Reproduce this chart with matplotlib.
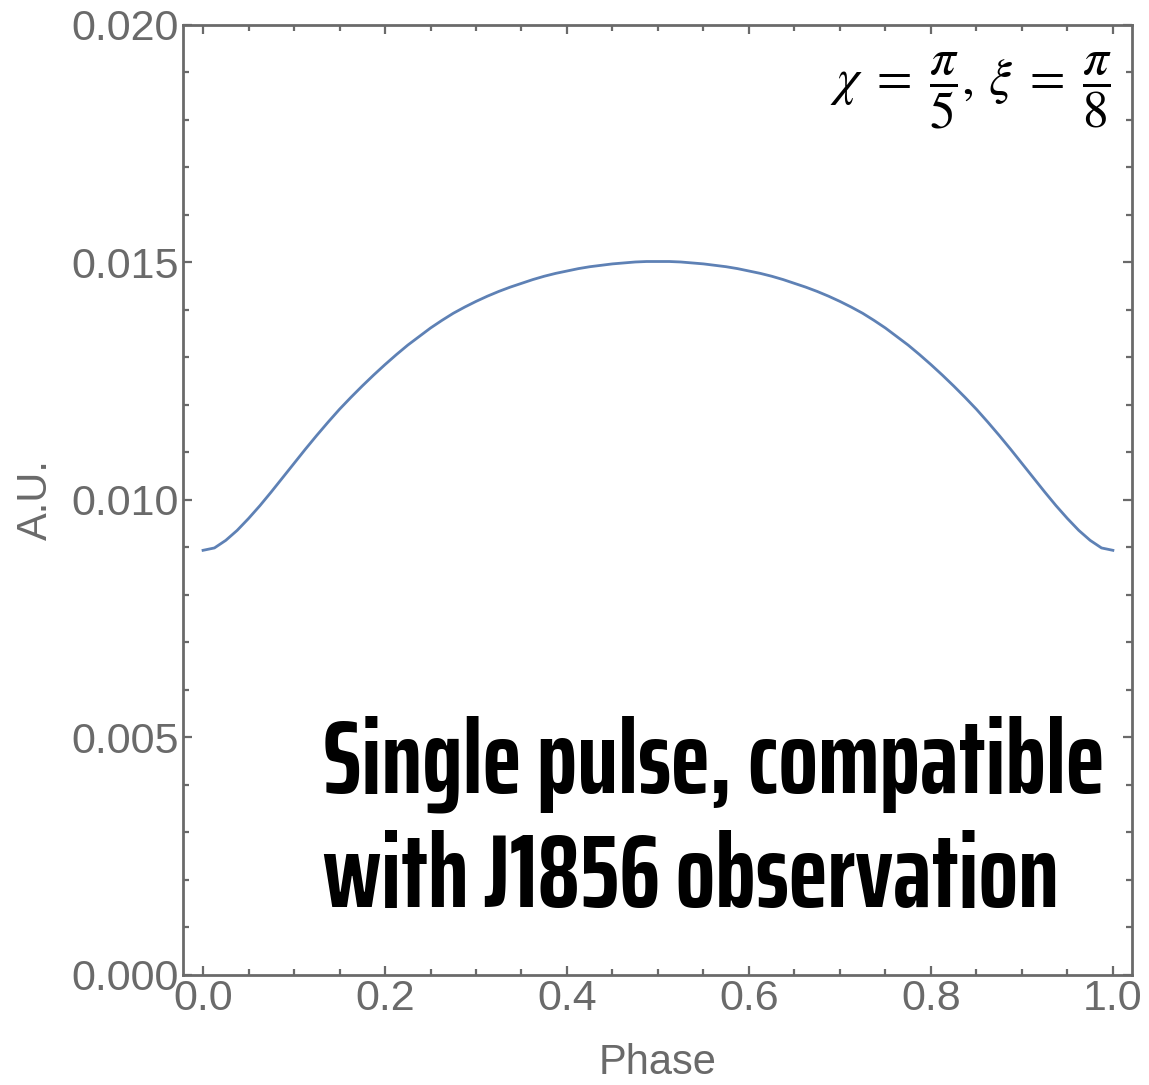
import numpy as np
import matplotlib
matplotlib.use("Agg")
import matplotlib.pyplot as plt
from matplotlib.ticker import MultipleLocator, FormatStrFormatter

# pulse profile
phase = [0.0000, 0.0125, 0.0250, 0.0375, 0.0500, 0.0625, 0.0750, 0.0875,
         0.1000, 0.1125, 0.1250, 0.1375, 0.1500, 0.1625, 0.1750, 0.1875,
         0.2000, 0.2125, 0.2250, 0.2375, 0.2500, 0.2625, 0.2750, 0.2875,
         0.3000, 0.3125, 0.3250, 0.3375, 0.3500, 0.3625, 0.3750, 0.3875,
         0.4000, 0.4125, 0.4250, 0.4375, 0.4500, 0.4625, 0.4750, 0.4875,
         0.5000, 0.5125, 0.5250, 0.5375, 0.5500, 0.5625, 0.5750, 0.5875,
         0.6000, 0.6125, 0.6250, 0.6375, 0.6500, 0.6625, 0.6750, 0.6875,
         0.7000, 0.7125, 0.7250, 0.7375, 0.7500, 0.7625, 0.7750, 0.7875,
         0.8000, 0.8125, 0.8250, 0.8375, 0.8500, 0.8625, 0.8750, 0.8875,
         0.9000, 0.9125, 0.9250, 0.9375, 0.9500, 0.9625, 0.9750, 0.9875,
         1.0000]
flux = [0.00894, 0.00899, 0.00915, 0.00936, 0.00961, 0.00988, 0.01017, 0.01047,
        0.01077, 0.01107, 0.01136, 0.01164, 0.01191, 0.01216, 0.01240, 0.01263,
        0.01285, 0.01306, 0.01326, 0.01344, 0.01362, 0.01378, 0.01393, 0.01406,
        0.01418, 0.01429, 0.01439, 0.01448, 0.01456, 0.01464, 0.01471, 0.01477,
        0.01482, 0.01487, 0.01491, 0.01494, 0.01497, 0.01499, 0.01501, 0.01502,
        0.01502, 0.01502, 0.01501, 0.01499, 0.01497, 0.01494, 0.01491, 0.01487,
        0.01482, 0.01477, 0.01471, 0.01464, 0.01456, 0.01448, 0.01439, 0.01429,
        0.01418, 0.01406, 0.01393, 0.01378, 0.01362, 0.01344, 0.01326, 0.01306,
        0.01285, 0.01263, 0.01240, 0.01216, 0.01191, 0.01164, 0.01136, 0.01107,
        0.01077, 0.01047, 0.01017, 0.00988, 0.00961, 0.00936, 0.00915, 0.00899,
        0.00894]

params_label = r"$\chi\;=\;\dfrac{\pi}{5},\,\xi\;=\;\dfrac{\pi}{8}$"
note_lines = ["Single pulse, compatible", "with J1856 observation"]

gray = "#6a6a6a"
plt.rcParams["font.family"] = ["Liberation Sans", "DejaVu Sans"]
plt.rcParams["mathtext.fontset"] = "stix"
note_font = ["Saira ExtraCondensed", "Saira Extra Condensed",
             "Big Shoulders Display", "Oswald", "DejaVu Sans"]

fig = plt.figure(figsize=(11.49, 10.85), dpi=100)
ax = fig.add_axes([0.1593, 0.1014, 0.8259, 0.8756])

ax.plot(phase, flux, color="#5E81B5", lw=2.0, solid_joinstyle="round")

ax.set_xlim(-0.022, 1.021)
ax.set_ylim(0.0, 0.020)
ax.xaxis.set_major_locator(MultipleLocator(0.2))
ax.xaxis.set_minor_locator(MultipleLocator(0.05))
ax.yaxis.set_major_locator(MultipleLocator(0.005))
ax.yaxis.set_minor_locator(MultipleLocator(0.001))
ax.xaxis.set_major_formatter(FormatStrFormatter("%.1f"))
ax.yaxis.set_major_formatter(FormatStrFormatter("%.3f"))

ax.tick_params(which="both", direction="in", top=True, right=True,
               color=gray, labelcolor=gray, width=1.6, labelsize=31)
ax.tick_params(which="major", length=6.5, pad=3)
ax.tick_params(which="minor", length=4)
for s in ax.spines.values():
    s.set_color(gray)
    s.set_linewidth(2.0)

ax.set_xlabel("Phase", fontsize=30, color=gray, labelpad=17)
ax.set_ylabel("A.U.", fontsize=30, color=gray, labelpad=11)

ax.text(0.979, 0.973, params_label, transform=ax.transAxes, ha="right",
        va="top", fontsize=37, color="black")

ax.text(0.1475, 0.1916, note_lines[0], transform=ax.transAxes, ha="left",
        va="baseline", fontsize=75, fontweight="bold", family=note_font)
ax.text(0.1475, 0.0716, note_lines[1], transform=ax.transAxes, ha="left",
        va="baseline", fontsize=75, fontweight="bold", family=note_font)

fig.savefig("out.png", dpi=100)
